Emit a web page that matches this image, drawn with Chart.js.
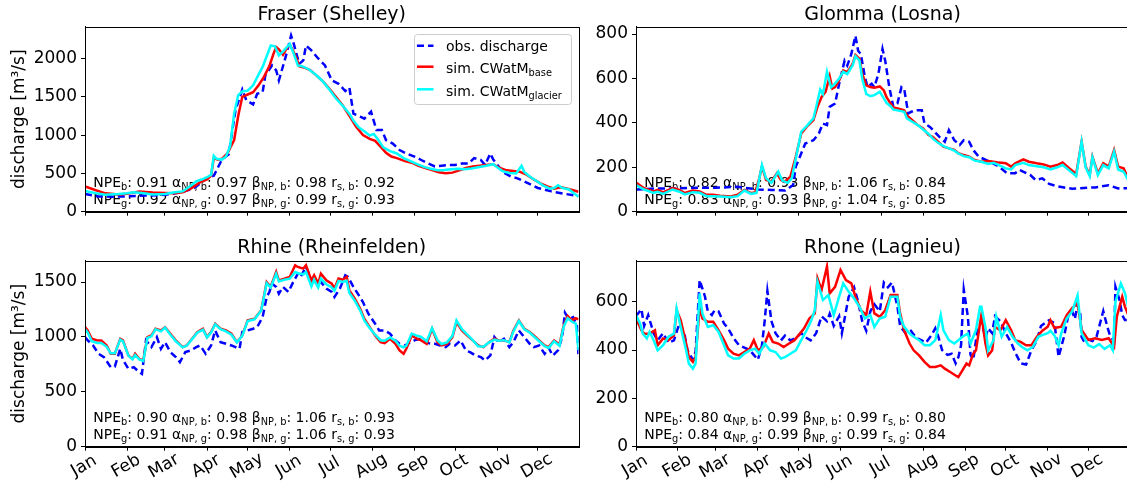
<!DOCTYPE html>
<html>
<head>
<meta charset="utf-8">
<script src="https://cdn.jsdelivr.net/npm/chart.js@4.4.0/dist/chart.umd.min.js"></script>
<style>
html,body{margin:0;padding:0;background:#fff;overflow:hidden;width:1127px;height:489px;position:relative}
canvas{position:absolute;display:block}
</style>
</head>
<body>
<canvas id="pFraser" width="600" height="232" style="left:0;top:0"></canvas>
<canvas id="pGlomma" width="580" height="232" style="left:560px;top:0"></canvas>
<canvas id="pRhine" width="600" height="257" style="left:0;top:232px"></canvas>
<canvas id="pRhone" width="580" height="257" style="left:560px;top:232px"></canvas>
<script>
// ---------------- DATA ----------------
const monthLabels = ['Jan','Feb','Mar','Apr','May','Jun','Jul','Aug','Sep','Oct','Nov','Dec'];
const monthStartDays = [0,31,59,90,120,151,181,212,243,273,304,334];

// Fraser (Shelley) [day of year, discharge m3/s]
const fraserObs = [[0,230],[10,200],[20,195],[31,200],[45,210],[59,220],[70,250],[80,300],[90,440],[95,470],[101,680],[106,750],[111,1325],[116,1595],[119,1455],[124,1400],[127,1540],[131,1560],[133,1780],[138,1910],[141,1845],[143,1715],[148,2020],[152,2300],[154,2190],[158,1930],[161,1975],[163,2170],[167,2105],[172,2000],[177,1910],[182,1715],[187,1670],[192,1575],[195,1620],[198,1280],[203,1240],[206,1215],[211,1305],[215,1065],[219,1065],[222,935],[227,890],[232,805],[237,760],[243,720],[248,675],[253,630],[258,590],[263,600],[268,610],[273,610],[278,630],[283,630],[287,700],[292,675],[295,610],[299,760],[301,685],[306,570],[310,500],[314,460],[319,435],[324,395],[334,310],[344,265],[355,230],[364,205]];
const fraserBase = [[0,330],[8,280],[15,240],[25,225],[31,235],[40,265],[50,250],[59,245],[66,240],[72,255],[78,300],[85,385],[90,420],[93,470],[95,700],[98,680],[101,690],[105,760],[110,935],[113,1250],[116,1500],[120,1530],[124,1560],[128,1650],[132,1760],[136,1900],[139,2060],[141,2150],[143,2120],[146,2050],[149,2140],[151,2180],[153,2120],[156,2000],[158,1900],[162,1880],[166,1850],[170,1790],[175,1710],[180,1610],[185,1500],[190,1390],[195,1250],[200,1110],[205,1000],[210,950],[214,925],[218,850],[222,770],[226,720],[230,700],[236,660],[241,640],[246,600],[251,570],[256,545],[261,515],[266,502],[271,510],[276,540],[281,570],[286,590],[291,600],[296,610],[301,620],[306,570],[311,540],[316,530],[321,520],[326,480],[331,420],[336,370],[341,330],[346,300],[351,320],[356,300],[364,260]];
const fraserGlacier = [[0,270],[8,240],[15,220],[25,230],[31,240],[36,255],[42,245],[50,225],[59,230],[65,250],[72,265],[78,340],[82,395],[86,420],[90,450],[93,480],[95,730],[97,690],[101,680],[104,720],[107,850],[110,1280],[113,1520],[116,1570],[120,1580],[124,1650],[128,1790],[131,1890],[134,2030],[137,2170],[140,2160],[143,2040],[146,2090],[149,2150],[151,2190],[154,2060],[157,1910],[160,1900],[165,1860],[170,1790],[175,1710],[180,1600],[185,1480],[190,1385],[195,1280],[198,1190],[202,1100],[206,1050],[210,995],[213,1015],[216,945],[220,840],[225,790],[230,760],[235,700],[240,660],[245,620],[250,585],[255,560],[260,540],[265,545],[270,555],[275,560],[280,555],[285,565],[290,580],[296,600],[301,620],[304,580],[308,530],[313,505],[318,500],[322,600],[324,520],[328,460],[333,400],[338,340],[343,300],[346,310],[349,345],[352,310],[357,290],[364,195]];
const fraserStatsBase = [0.91,0.97,0.98,0.92];
const fraserStatsGlacier = [0.92,0.97,0.99,0.93];
const fraserYTicks = [0,500,1000,1500,2000];

// Glomma (Losna)
const glommaObs = [[0,100],[16,105],[31,105],[46,108],[59,108],[75,112],[90,100],[100,98],[110,95],[116,120],[118,203],[125,307],[131,322],[135,352],[138,397],[141,390],[143,472],[147,487],[150,576],[154,680],[156,658],[159,710],[162,792],[164,725],[166,710],[169,606],[171,561],[174,576],[176,561],[179,621],[182,733],[184,680],[187,561],[190,472],[193,487],[196,561],[198,554],[201,442],[203,449],[206,457],[211,457],[213,397],[217,382],[224,337],[228,315],[231,367],[235,322],[239,300],[242,322],[246,315],[249,278],[253,248],[261,225],[268,203],[274,173],[280,173],[283,188],[291,166],[295,143],[300,150],[305,125],[312,113],[322,103],[334,108],[339,109],[349,119],[356,105],[364,106]];
const glommaBase = [[0,131],[6,106],[13,91],[16,98],[20,87],[27,106],[32,98],[36,84],[42,95],[47,91],[52,76],[57,76],[62,72],[70,69],[75,76],[80,98],[85,84],[88,87],[91,150],[93,205],[96,143],[100,136],[104,173],[107,143],[110,136],[114,158],[118,248],[122,352],[126,382],[131,412],[134,472],[137,516],[140,540],[143,610],[145,554],[147,561],[150,591],[153,636],[156,628],[160,666],[162,705],[165,688],[167,621],[170,569],[173,561],[176,558],[180,564],[183,546],[185,516],[188,487],[190,469],[194,464],[198,457],[200,434],[204,412],[208,390],[212,375],[216,345],[219,337],[223,315],[227,293],[231,285],[235,278],[238,263],[242,255],[246,248],[250,233],[255,225],[260,228],[264,225],[268,221],[273,218],[277,203],[280,218],[286,236],[290,225],[296,218],[301,213],[306,203],[311,210],[315,222],[320,195],[325,170],[329,315],[332,203],[335,166],[337,248],[341,173],[345,218],[349,203],[353,278],[356,203],[360,195],[364,143]];
const glommaGlacier = [[0,120],[6,100],[13,85],[16,90],[20,80],[27,100],[32,90],[36,78],[42,88],[47,85],[52,70],[57,70],[62,68],[70,65],[75,70],[80,95],[85,80],[89,85],[93,210],[96,150],[100,130],[105,180],[108,140],[112,130],[115,150],[118,240],[122,360],[126,385],[131,420],[133,470],[136,550],[138,530],[141,630],[144,560],[146,570],[150,600],[153,630],[156,620],[160,660],[162,700],[165,680],[167,600],[170,530],[173,520],[176,525],[180,540],[183,510],[185,490],[188,475],[190,460],[194,455],[198,450],[200,420],[204,405],[208,390],[212,370],[216,350],[219,330],[223,310],[227,295],[231,285],[235,275],[238,262],[242,250],[246,245],[250,230],[255,225],[260,215],[264,220],[268,210],[273,195],[277,190],[280,210],[286,220],[290,210],[296,205],[301,200],[306,190],[311,200],[315,210],[320,185],[325,160],[329,315],[332,200],[335,160],[337,245],[341,165],[345,210],[349,195],[353,270],[356,190],[360,180],[364,135]];
const glommaStatsBase = [0.82,0.93,1.06,0.84];
const glommaStatsGlacier = [0.83,0.93,1.04,0.85];
const glommaYTicks = [0,200,400,600,800];

// Rhine (Rheinfelden)
const rhineObs = [[0,998],[2,968],[6,922],[10,846],[14,816],[19,724],[22,730],[26,892],[28,790],[32,709],[36,724],[40,679],[42,663],[45,968],[49,907],[53,998],[56,892],[59,952],[63,861],[67,816],[70,770],[74,861],[78,876],[82,907],[85,922],[89,846],[93,922],[96,1059],[100,952],[104,937],[108,922],[111,907],[114,892],[116,1044],[120,1059],[124,1074],[127,1089],[131,1181],[134,1363],[136,1409],[138,1485],[141,1455],[143,1394],[146,1455],[150,1409],[153,1485],[157,1576],[159,1546],[163,1637],[167,1515],[171,1485],[174,1500],[178,1440],[182,1409],[184,1363],[188,1440],[192,1561],[194,1546],[198,1455],[202,1378],[205,1318],[209,1211],[214,1120],[217,1059],[221,1059],[225,1029],[229,968],[232,937],[236,922],[240,952],[243,968],[247,983],[251,952],[255,937],[258,937],[262,922],[266,907],[269,937],[273,922],[277,968],[281,876],[284,861],[288,831],[292,816],[295,785],[299,831],[302,998],[305,952],[309,983],[313,907],[316,952],[320,1059],[324,998],[328,937],[331,907],[335,922],[339,846],[342,900],[345,830],[349,880],[352,1000],[354,1220],[357,1160],[360,1180],[363,1100],[364,820]];
const rhineBase = [[0,1089],[2,1059],[5,983],[9,968],[12,968],[16,922],[19,846],[22,846],[26,983],[28,968],[32,831],[35,800],[37,846],[40,800],[43,785],[46,998],[49,1013],[52,1074],[56,1059],[59,1089],[63,1029],[67,968],[72,907],[75,922],[79,983],[83,1044],[87,1074],[90,998],[93,1044],[96,1120],[100,1074],[104,1059],[108,1029],[112,952],[116,1013],[120,1150],[125,1165],[130,1242],[134,1500],[137,1455],[141,1592],[143,1515],[147,1531],[151,1546],[155,1652],[157,1637],[161,1622],[163,1652],[167,1515],[169,1561],[172,1485],[174,1576],[178,1515],[182,1485],[184,1440],[187,1531],[190,1521],[193,1546],[195,1424],[199,1348],[203,1257],[206,1165],[210,1089],[214,1013],[218,952],[221,943],[225,983],[229,937],[232,876],[235,846],[237,892],[241,1013],[245,983],[248,968],[252,937],[256,1074],[260,952],[263,922],[267,937],[271,998],[274,1135],[278,1059],[282,1013],[286,968],[290,922],[294,907],[298,952],[302,983],[305,968],[309,968],[313,952],[316,1059],[320,1150],[324,1074],[328,1044],[331,1013],[335,968],[339,922],[342,907],[346,968],[350,930],[353,1100],[356,1190],[359,1150],[362,1170],[364,1160]];
const rhineGlacier = [[0,1070],[2,1040],[5,960],[9,945],[12,945],[16,910],[19,850],[22,850],[26,975],[28,960],[32,830],[35,795],[37,835],[40,795],[43,780],[46,990],[49,1005],[52,1070],[56,1050],[59,1085],[63,1020],[67,960],[72,905],[75,920],[79,980],[83,1040],[87,1065],[90,995],[93,1040],[96,1115],[100,1070],[104,1050],[108,1020],[112,950],[116,1010],[120,1145],[125,1160],[130,1240],[134,1490],[137,1450],[141,1575],[143,1505],[147,1520],[151,1530],[155,1590],[157,1580],[161,1570],[163,1590],[167,1460],[169,1520],[172,1450],[174,1530],[178,1480],[182,1450],[184,1420],[187,1510],[190,1500],[193,1510],[195,1400],[199,1330],[203,1240],[206,1150],[210,1080],[214,1020],[218,970],[221,965],[225,995],[229,965],[232,920],[235,905],[237,920],[241,1030],[245,1010],[248,1000],[252,960],[256,1080],[260,970],[263,935],[267,950],[271,1010],[274,1150],[278,1070],[282,1020],[286,970],[290,915],[294,910],[298,950],[302,975],[305,965],[309,970],[313,950],[316,1050],[320,1145],[324,1070],[328,1040],[331,1005],[335,960],[339,915],[342,900],[346,960],[350,920],[353,1090],[356,1170],[359,1140],[362,1120],[364,880]];
const rhineStatsBase = [0.90,0.98,1.06,0.93];
const rhineStatsGlacier = [0.91,0.98,1.06,0.93];
const rhineYTicks = [0,500,1000,1500];

// Rhone (Lagnieu)
const rhoneObs = [[0,540],[4,570],[6,500],[9,545],[13,470],[16,440],[20,470],[24,430],[28,440],[32,510],[36,460],[38,400],[42,360],[44,395],[47,690],[51,620],[53,560],[56,545],[58,565],[61,560],[65,510],[68,490],[72,450],[76,420],[80,410],[84,400],[87,380],[90,360],[93,420],[95,520],[97,645],[100,520],[103,470],[107,440],[110,460],[114,440],[118,450],[122,470],[126,450],[129,440],[133,470],[137,540],[141,520],[143,550],[146,500],[150,540],[152,470],[155,560],[157,620],[161,660],[164,600],[167,520],[170,480],[173,560],[176,590],[180,560],[183,680],[186,660],[189,680],[193,580],[195,500],[199,470],[203,480],[207,450],[211,440],[214,430],[218,460],[221,490],[223,460],[226,400],[230,380],[233,385],[236,345],[238,370],[240,420],[242,650],[245,540],[247,380],[249,360],[252,480],[255,520],[258,450],[260,490],[263,470],[265,540],[269,520],[273,470],[277,430],[280,390],[284,345],[288,340],[292,400],[296,440],[299,500],[305,524],[309,512],[312,372],[316,455],[319,538],[322,561],[324,529],[326,587],[328,553],[329,455],[331,434],[334,443],[337,437],[340,455],[345,561],[348,496],[350,460],[353,437],[354,662],[357,607],[359,545],[361,524],[364,524]];
const rhoneBase = [[0,531],[4,482],[6,468],[10,468],[14,482],[16,420],[20,448],[24,441],[28,461],[30,565],[33,524],[37,427],[39,371],[42,351],[44,371],[47,579],[49,531],[53,517],[57,517],[61,482],[65,441],[68,406],[72,385],[76,378],[80,392],[84,406],[87,441],[90,399],[94,413],[98,468],[101,434],[105,427],[109,413],[113,427],[117,441],[121,468],[124,489],[128,531],[132,552],[134,697],[137,649],[141,746],[143,635],[147,662],[151,732],[155,690],[159,676],[162,621],[166,565],[170,545],[173,642],[176,552],[180,538],[184,565],[188,628],[193,628],[195,552],[198,482],[202,427],[205,399],[209,378],[213,351],[217,330],[221,330],[225,337],[228,323],[232,309],[236,295],[238,288],[241,316],[244,344],[246,337],[249,385],[251,399],[254,510],[255,545],[258,427],[260,378],[263,399],[265,496],[269,482],[273,524],[277,482],[280,441],[284,434],[288,420],[292,420],[296,455],[300,480],[304,497],[306,524],[309,491],[314,497],[318,545],[322,574],[326,594],[329,483],[334,442],[339,449],[344,442],[349,449],[353,414],[355,538],[359,621],[361,580],[364,538]];
const rhoneGlacier = [[0,545],[3,510],[5,468],[8,448],[10,475],[13,441],[16,399],[20,420],[24,455],[28,468],[30,572],[33,496],[37,399],[39,344],[42,323],[44,344],[47,635],[49,552],[53,496],[57,503],[61,475],[65,420],[68,378],[72,365],[76,365],[80,385],[84,399],[88,406],[91,385],[95,427],[99,399],[103,392],[107,365],[110,371],[114,385],[118,399],[122,441],[126,482],[129,517],[132,565],[134,683],[138,607],[142,628],[146,545],[150,621],[153,676],[157,642],[161,614],[165,579],[169,531],[173,545],[176,496],[180,531],[184,538],[188,621],[193,621],[195,538],[198,496],[202,468],[205,455],[209,441],[213,420],[217,420],[221,441],[225,545],[227,482],[231,441],[235,427],[238,441],[241,455],[245,468],[247,427],[251,482],[254,579],[255,579],[258,496],[260,399],[264,441],[266,538],[270,455],[274,496],[278,455],[282,427],[285,413],[289,399],[293,413],[297,455],[300,462],[304,470],[306,480],[309,460],[312,420],[314,470],[318,530],[322,560],[326,626],[329,470],[334,420],[338,410],[342,425],[346,405],[350,420],[352,400],[354,600],[358,676],[361,636],[364,566]];
const rhoneStatsBase = [0.80,0.99,0.99,0.80];
const rhoneStatsGlacier = [0.84,0.99,0.99,0.84];
const rhoneYTicks = [0,200,400,600];

// ---------------- RENDERING ----------------
Chart.defaults.font.family = "'DejaVu Sans', sans-serif";
Chart.defaults.color = '#000';
const FONT = "'DejaVu Sans', sans-serif";
const toXY = arr => arr.map(p => ({x: p[0], y: p[1]}));

function drawRich(ctx, x, y, parts, size) {
  let cx = x;
  ctx.textAlign = 'left';
  ctx.textBaseline = 'alphabetic';
  for (const p of parts) {
    const s = p.sub ? size * 0.7 : size;
    ctx.font = s + 'px ' + FONT;
    ctx.fillText(p.t, cx, y + (p.sub ? size * 0.22 : 0));
    cx += ctx.measureText(p.t).width;
  }
}
function statParts(vals, k) {
  const f = v => v.toFixed(2);
  return [
    {t: 'NPE'}, {t: k, sub: true}, {t: ': ' + f(vals[0]) + ' α'},
    {t: 'NP, ' + k, sub: true}, {t: ': ' + f(vals[1]) + ' β'},
    {t: 'NP, ' + k, sub: true}, {t: ': ' + f(vals[2]) + ' r'},
    {t: 's, ' + k, sub: true}, {t: ': ' + f(vals[3])}
  ];
}
const panelPlugin = {
  id: 'panel',
  beforeDatasetsDraw(chart, args, o) {
    const ctx = chart.ctx, a = chart.chartArea;
    ctx.save();
    ctx.fillStyle = '#000';
    drawRich(ctx, a.left + 8.3, a.bottom - 24.5, statParts(o.statsB, 'b'), 14);
    drawRich(ctx, a.left + 8.3, a.bottom - 7.5, statParts(o.statsG, 'g'), 14);
    ctx.restore();
  },
  afterDraw(chart, args, o) {
    const ctx = chart.ctx, a = chart.chartArea;
    ctx.save();
    ctx.strokeStyle = '#000';
    ctx.lineWidth = 1;
    ctx.strokeRect(Math.round(a.left) + 0.5, Math.round(a.top) + 0.5, Math.round(a.right) - Math.round(a.left), Math.round(a.bottom) - Math.round(a.top));
    if (o.xLabels) {
      const xs = chart.scales.x;
      ctx.fillStyle = '#000';
      ctx.font = '17px ' + FONT;
      ctx.textAlign = 'center';
      ctx.textBaseline = 'middle';
      xs.ticks.forEach((t, i) => {
        const px = xs.getPixelForValue(t.value);
        ctx.save();
        ctx.translate(px - 1, a.bottom + 19.5);
        ctx.rotate(-30 * Math.PI / 180);
        ctx.fillText(monthLabels[i], 0, 0);
        ctx.restore();
      });
    }
    if (o.legend) {
      const bw = 157, bh = 70;
      const bx = a.right - 7.5 - bw, by = a.top + 7.3;
      ctx.beginPath();
      ctx.roundRect(bx + 0.5, by + 0.5, bw, bh, 3);
      ctx.fillStyle = 'rgba(255,255,255,0.8)';
      ctx.fill();
      ctx.strokeStyle = '#cccccc';
      ctx.lineWidth = 1;
      ctx.stroke();
      const items = [
        {c: '#0000ff', dash: [7, 4], parts: [{t: 'obs. discharge'}]},
        {c: '#ff0000', dash: [], parts: [{t: 'sim. CWatM'}, {t: 'base', sub: true}]},
        {c: '#00ffff', dash: [], parts: [{t: 'sim. CWatM'}, {t: 'glacier', sub: true}]}
      ];
      const lineY = [11.7, 32.7, 55.3], textY = [17, 39.3, 62.3];
      items.forEach((it, i) => {
        ctx.beginPath();
        ctx.setLineDash(it.dash);
        ctx.strokeStyle = it.c;
        ctx.lineWidth = 2.5;
        ctx.moveTo(bx + 3, by + lineY[i]);
        ctx.lineTo(bx + 19.5, by + lineY[i]);
        ctx.stroke();
        ctx.setLineDash([]);
        ctx.fillStyle = '#000';
        drawRich(ctx, bx + 32, by + textY[i], it.parts, 14);
      });
    }
    ctx.restore();
  }
};

function makePanel(id, o) {
  const canvas = document.getElementById(id);
  const W = canvas.width, H = canvas.height;
  return new Chart(canvas, {
    type: 'line',
    data: {
      datasets: [
        {label: 'obs. discharge', data: toXY(o.obs), borderColor: '#0000ff', borderWidth: 2.5, borderDash: [7, 4], pointRadius: 0, tension: 0, fill: false, order: 3},
        {label: 'sim. CWatM base', data: toXY(o.base), borderColor: '#ff0000', borderWidth: 2.5, pointRadius: 0, tension: 0, fill: false, order: 2},
        {label: 'sim. CWatM glacier', data: toXY(o.glacier), borderColor: '#00ffff', borderWidth: 2.5, pointRadius: 0, tension: 0, fill: false, order: 1}
      ]
    },
    options: {
      responsive: false, animation: false, events: [],
      layout: {padding: {left: 0, right: W - o.right, top: 0, bottom: 0}},
      plugins: {
        legend: {display: false},
        tooltip: {enabled: false},
        title: {display: true, text: o.title, color: '#000', fullSize: false,
                font: {size: 19, weight: 'normal', lineHeight: 1.2},
                padding: {top: o.titleTop, bottom: o.top - o.titleTop - 22.8}},
        panel: {statsB: o.statsB, statsG: o.statsG, xLabels: o.xLabels, legend: o.legend}
      },
      scales: {
        x: {
          type: 'linear', min: 0, max: 364,
          afterBuildTicks: s => { s.ticks = monthStartDays.map(v => ({value: v})); },
          ticks: {display: false},
          grid: {drawOnChartArea: false, drawTicks: true, tickLength: 4, color: '#000', lineWidth: 1},
          border: {display: true, color: '#000', width: 1},
          afterFit: s => { s.height = H - o.bottom; }
        },
        y: {
          type: 'linear', min: 0, max: o.ymax,
          afterBuildTicks: s => { s.ticks = o.yticks.map(v => ({value: v})); },
          ticks: {font: {size: 17}, color: '#000', padding: 4, callback: v => String(v)},
          grid: {drawOnChartArea: false, drawTicks: true, tickLength: 4, color: '#000', lineWidth: 1},
          border: {display: true, color: '#000', width: 1},
          title: {display: o.ylabel, text: 'discharge [m³/s]', color: '#000', font: {size: 17}, padding: {top: 9, bottom: 0}},
          afterFit: s => { s.width = o.left; }
        }
      }
    },
    plugins: [panelPlugin]
  });
}

makePanel('pFraser', {title: 'Fraser (Shelley)', obs: fraserObs, base: fraserBase, glacier: fraserGlacier,
  statsB: fraserStatsBase, statsG: fraserStatsGlacier, yticks: fraserYTicks, ymax: 2415,
  left: 85, right: 578.5, top: 26.7, titleTop: 3.6, bottom: 211.7, ylabel: true, xLabels: false, legend: true});
makePanel('pGlomma', {title: 'Glomma (Losna)', obs: glommaObs, base: glommaBase, glacier: glommaGlacier,
  statsB: glommaStatsBase, statsG: glommaStatsGlacier, yticks: glommaYTicks, ymax: 833,
  left: 76, right: 569, top: 26.7, titleTop: 3.6, bottom: 211.7, ylabel: false, xLabels: false, legend: false});
makePanel('pRhine', {title: 'Rhine (Rheinfelden)', obs: rhineObs, base: rhineBase, glacier: rhineGlacier,
  statsB: rhineStatsBase, statsG: rhineStatsGlacier, yticks: rhineYTicks, ymax: 1694,
  left: 85, right: 578.5, top: 28.7, titleTop: 4.9, bottom: 214.7, ylabel: true, xLabels: true, legend: false});
makePanel('pRhone', {title: 'Rhone (Lagnieu)', obs: rhoneObs, base: rhoneBase, glacier: rhoneGlacier,
  statsB: rhoneStatsBase, statsG: rhoneStatsGlacier, yticks: rhoneYTicks, ymax: 770,
  left: 76, right: 569, top: 28.7, titleTop: 4.9, bottom: 214.7, ylabel: false, xLabels: true, legend: false});
</script>
</body>
</html>
